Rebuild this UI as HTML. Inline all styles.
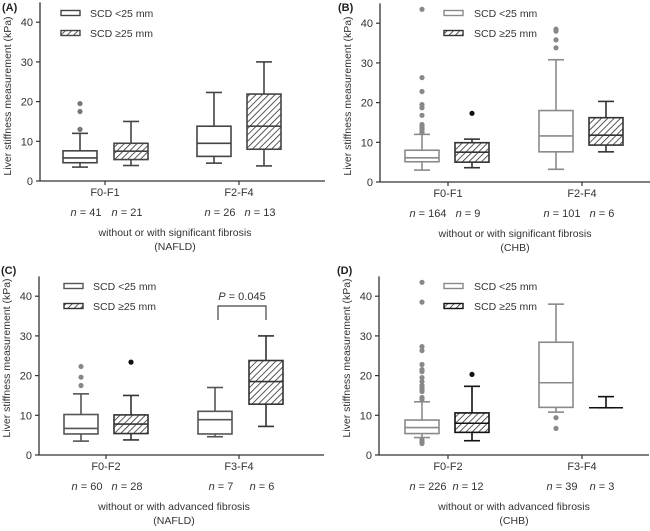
<!DOCTYPE html>
<html><head><meta charset="utf-8"><style>
body{margin:0;background:#fff;}
svg{font-family:"Liberation Sans",Arial,sans-serif;}
</style></head><body>
<svg id="chart" width="650" height="526" viewBox="0 0 650 526">
<defs>
<pattern id="hatch" patternUnits="userSpaceOnUse" width="4.5" height="4.5" patternTransform="rotate(45)">
<rect width="4.5" height="4.5" fill="#fff"/><line x1="0" y1="0" x2="0" y2="4.5" stroke="#222" stroke-width="1.5"/>
</pattern>
</defs>
</svg>
<script>
// [min, q1, median, q3, max]
const panelLabels = ["(A)","(B)","(C)","(D)"];
const categoriesA = ["F0-F1","F2-F4"];
const categoriesB = ["F0-F1","F2-F4"];
const categoriesC = ["F0-F2","F3-F4"];
const categoriesD = ["F0-F2","F3-F4"];
const nA = [["41","21"],["26","13"]];
const nB = [["164","9"],["101","6"]];
const nC = [["60","28"],["7","6"]];
const nD = [["226","12"],["39","3"]];
const xTitlesA = ["without or with significant fibrosis","(NAFLD)"];
const xTitlesB = ["without or with  significant fibrosis","(CHB)"];
const xTitlesC = ["without or with advanced fibrosis","(NAFLD)"];
const xTitlesD = ["without or with  advanced fibrosis","(CHB)"];
const yTicks = [0,10,20,30,40];
const boxA = [[[3.5,4.6,5.8,7.6,12],[3.9,5.4,7.5,9.5,15]],[[4.5,6.2,9.5,13.8,22.3],[3.8,8,13.8,21.9,30]]];
const outA = [[[13,17.5,19.5],[]],[[],[]]];
const boxB = [[[3,5.1,6.1,8,12],[3.6,5,7.5,9.9,10.8]],[[3.2,7.6,11.6,18,30.8],[7.6,9.3,11.8,16.2,20.3]]];
const outB = [[[12.5,13,13.5,14,14.5,16.8,18.7,19.5,22.8,26.3,43.5],[17.3]],[[33.8,35.8,38,38.5],[]]];
const boxC = [[[3.5,5.3,6.7,10.2,15.4],[3.8,5.4,7.8,10.1,15]],[[4.6,5.3,8.9,11,17],[7.2,12.8,18.5,23.8,30]]];
const outC = [[[17.5,19.6,22.3],[23.4]],[[],[]]];
const boxD = [[[4.4,5.4,6.9,8.8,13.4],[3.6,5.7,8,10.6,17.3]],[[10.8,12,18.2,28.4,38],[11.9,11.9,11.9,11.9,14.7]]];
const outD = [[[2.9,3.3,3.8,14,14.5,16,16.5,17,17.5,18.5,19.5,21,21.5,22.8,26.3,27.3,38.5,43.5],[20.3]],[[6.7,9.4],[]]];
const pText = "P = 0.045";

const svg = document.getElementById('chart');
const NS = "http://www.w3.org/2000/svg";
function el(tag, attrs, parent){const e=document.createElementNS(NS,tag);for(const k in attrs)e.setAttribute(k,attrs[k]);(parent||svg).appendChild(e);return e;}
function txt(s, attrs, parent){const e=el('text',attrs,parent);e.textContent=s;return e;}

const panels = [
 {lab:panelLabels[0],ox:40,oy:0,y0:181,cats:categoriesA,n:nA,xt:xTitlesA,box:boxA,out:outA,c1:"#444",c2:"#444",oc1:"#777",oc2:"#111",legX:61,legTxt:90,legY:[13,33],tick:[105,239],boxX:[[80,131],[214,264]]},
 {lab:panelLabels[1],ox:380,oy:0,y0:182,cats:categoriesB,n:nB,xt:xTitlesB,box:boxB,out:outB,c1:"#8a8a8a",c2:"#333",oc1:"#888",oc2:"#111",legX:444,legTxt:474,legY:[13,33],tick:[448,582],boxX:[[422,472],[556,606]]},
 {lab:panelLabels[2],ox:39,oy:263,y0:455,cats:categoriesC,n:nC,xt:xTitlesC,box:boxC,out:outC,c1:"#555",c2:"#333",oc1:"#888",oc2:"#111",legX:64,legTxt:93,legY:[286,306],tick:[106,239],boxX:[[81,131],[215,266]],p:true},
 {lab:panelLabels[3],ox:379,oy:263,y0:455,cats:categoriesD,n:nD,xt:xTitlesD,box:boxD,out:outD,c1:"#8a8a8a",c2:"#111",oc1:"#888",oc2:"#111",legX:444,legTxt:474,legY:[286,306],tick:[448,582],boxX:[[422,472],[556,606]]}
];
const S = 3.97;
panels.forEach((p,pi)=>{
  const g = el('g',{});
  
  
  const Y = v => p.y0 - v*S;
  const lab = txt(p.lab,{x:p.ox-40+2+(pi%2?-4:0),y:p.oy+11,'font-size':11,'font-weight':'bold',fill:'#222'},g);
  
  
  const ya = el('line',{x1:p.ox,x2:p.ox,y1:Y(45),y2:p.y0,stroke:'#333','stroke-width':1.3},g);
  
  
  const xa = el('line',{x1:p.ox,x2:p.ox+(pi%2?270:285),y1:p.y0,y2:p.y0,stroke:'#333','stroke-width':1.3},g);
  
  
  yTicks.forEach(t=>{
    el('line',{x1:p.ox-4,x2:p.ox,y1:Y(t),y2:Y(t),stroke:'#333','stroke-width':1.2},g);
    const tl = txt(String(t),{x:p.ox-7,y:Y(t)+4,'font-size':11,'text-anchor':'end',fill:'#333'},g);
    
    
  });
  const yt = txt("Liver stiffness measurement (kPa)",{transform:`translate(${p.ox-29},${p.oy+(pi<2?96:95)}) rotate(-90)`,'font-size':10.5,'text-anchor':'middle',fill:'#333'},g);
  
  
  p.cats.forEach((c,ci)=>{
    const tx=p.tick[ci];
    el('line',{x1:tx,x2:tx,y1:p.y0,y2:p.y0+4,stroke:'#333','stroke-width':1.2},g);
    const cl = txt(c,{x:tx,y:p.y0+15,'font-size':11,'text-anchor':'middle',fill:'#333'},g);
    
    
    p.n[ci].forEach((nv,si)=>{
      const t = el('text',{x:p.boxX[ci][si]+(si?-4:6),y:p.y0+35,'font-size':11,'text-anchor':'middle',fill:'#333'},g);
      
      
      const i=el('tspan',{'font-style':'italic'},t);i.textContent='n';
      const r=el('tspan',{},t);r.textContent=' = '+nv;
    });
    p.box[ci].forEach((b,si)=>{
      const cx=p.boxX[ci][si], w=34, col=si?p.c2:p.c1, sw=1.6;
      const bg=el('g',{},g);
      
      
      el('line',{x1:cx,x2:cx,y1:Y(b[0]),y2:Y(b[1]),stroke:col,'stroke-width':sw},bg);
      el('line',{x1:cx,x2:cx,y1:Y(b[3]),y2:Y(b[4]),stroke:col,'stroke-width':sw},bg);
      el('line',{x1:cx-8,x2:cx+8,y1:Y(b[0]),y2:Y(b[0]),stroke:col,'stroke-width':sw},bg);
      el('line',{x1:cx-8,x2:cx+8,y1:Y(b[4]),y2:Y(b[4]),stroke:col,'stroke-width':sw},bg);
      if(b[3]-b[1]>0.01){
        el('rect',{x:cx-w/2,y:Y(b[3]),width:w,height:Y(b[1])-Y(b[3]),fill:si?'url(#hatch)':'#fff',stroke:col,'stroke-width':sw},bg);
      }
      el('line',{x1:cx-w/2,x2:cx+w/2,y1:Y(b[2]),y2:Y(b[2]),stroke:col,'stroke-width':sw},bg);
      p.out[ci][si].forEach(o=>{
        const d=el('circle',{cx:cx,cy:Y(o),r:2.6,fill:si?p.oc2:p.oc1},bg);
        
        
      });
    });
  });
  ["SCD <25 mm","SCD \u226525 mm"].forEach((s,li)=>{
    const lg=el('g',{},g);
    
    
    el('rect',{x:p.legX,y:p.legY[li]-2.5,width:19,height:5,fill:li?'url(#hatch)':'#fff',stroke:li?p.c2:p.c1,'stroke-width':1.4},lg);
    txt(s,{x:p.legTxt,y:p.legY[li]+4,'font-size':10.5,fill:'#333'},lg);
  });
  p.xt.forEach((s,i)=>{
    const t=txt(s,{x:p.ox+135,y:p.y0+55+i*14,'font-size':10.5,'text-anchor':'middle',fill:'#333'},g);
    
    
  });
  if(p.p){
    const br=el('path',{d:`M218 320 V306 H266 V320`,fill:'none',stroke:'#444','stroke-width':1.2},g);
    
    
    const t=el('text',{x:242,y:300,'font-size':11,'text-anchor':'middle',fill:'#333'},g);
    
    
    const a=el('tspan',{'font-style':'italic'},t);a.textContent=pText.slice(0,1);
    const b=el('tspan',{},t);b.textContent=pText.slice(1);
  }
});
</script>
</body></html>
